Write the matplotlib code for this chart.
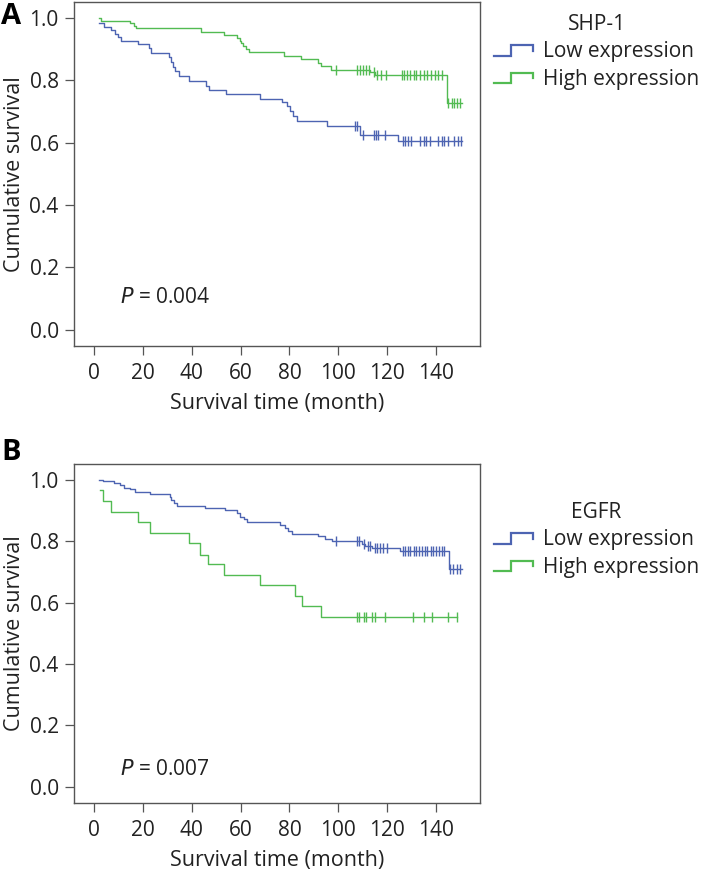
import numpy as np
import matplotlib
matplotlib.use("Agg")
import matplotlib.pyplot as plt
from matplotlib.lines import Line2D
from matplotlib.legend_handler import HandlerBase

plt.rcParams["font.family"] = ["Open Sans", "DejaVu Sans"]

# ---------------- data ----------------
# panel A : SHP-1
shp_low_t = [2.0, 3.8, 6.9, 8.5, 9.6, 11.0, 18.1, 22.6, 23.3, 30.8, 31.5, 32.2,
             33.3, 34.9, 38.7, 45.9, 47.0, 54.1, 68.1, 77.0, 78.8, 80.1, 81.5,
             82.9, 95.2, 108.9, 124.6]
shp_low_s = [0.984, 0.972, 0.962, 0.949, 0.938, 0.927, 0.917, 0.903, 0.888, 0.874,
             0.858, 0.842, 0.829, 0.815, 0.799, 0.783, 0.769, 0.757, 0.742, 0.730,
             0.719, 0.703, 0.687, 0.671, 0.655, 0.625, 0.604]
shp_low_end = 150.7
shp_low_cens = [106.8, 107.8, 110.1, 114.5, 115.5, 116.5, 119.1, 126.5, 127.5,
                128.5, 130.0, 133.5, 135.0, 136.0, 137.5, 141.0, 142.5, 143.5,
                145.0, 147.5, 149.0, 150.5]

shp_high_t = [2.0, 2.8, 14.8, 16.4, 17.1, 43.8, 53.0, 58.6, 59.6, 60.3, 61.0,
              62.0, 63.3, 77.6, 84.9, 91.6, 93.1, 97.2, 113.0, 115.1, 144.5]
shp_high_s = [1.0, 0.990, 0.983, 0.975, 0.967, 0.955, 0.946, 0.937, 0.928, 0.919,
              0.910, 0.900, 0.890, 0.880, 0.868, 0.856, 0.845, 0.835, 0.826, 0.817,
              0.727]
shp_high_end = 150.7
shp_high_cens = [99.0, 107.5, 108.9, 110.1, 111.4, 112.6, 114.5, 116.0, 117.5,
                 119.5, 126.0, 127.0, 128.0, 129.5, 131.0, 132.0, 133.5, 135.0,
                 136.5, 138.0, 139.5, 141.0, 142.5, 145.0, 146.5, 147.5, 148.5,
                 150.0]

# panel B : EGFR
egfr_low_t = [1.8, 3.4, 7.9, 10.7, 12.0, 14.8, 16.8, 23.0, 30.9, 31.4, 32.5, 33.9,
              45.5, 53.7, 58.5, 59.8, 61.2, 62.6, 76.2, 78.3, 79.6, 81.0, 91.9,
              94.7, 97.4, 109.7, 111.1, 113.8, 125.4, 145.2]
egfr_low_s = [1.0, 0.995, 0.989, 0.982, 0.975, 0.970, 0.962, 0.954, 0.946, 0.934,
              0.924, 0.916, 0.909, 0.902, 0.891, 0.880, 0.872, 0.864, 0.853, 0.842,
              0.833, 0.825, 0.818, 0.809, 0.801, 0.792, 0.785, 0.778, 0.767, 0.710]
egfr_low_end = 150.7
egfr_low_cens = [99.2, 107.7, 108.5, 110.5, 112.0, 113.0, 115.0, 116.0, 117.0,
                 118.5, 120.0, 126.5, 127.5, 128.5, 129.5, 131.0, 132.0, 133.0,
                 134.5, 135.5, 136.5, 138.0, 139.0, 140.0, 141.5, 142.5, 143.5,
                 146.0, 147.0, 148.5, 150.0]

egfr_high_t = [2.2, 3.4, 6.8, 17.9, 22.7, 38.9, 43.4, 46.8, 53.0, 68.0, 82.1,
               85.1, 93.0]
egfr_high_s = [0.967, 0.932, 0.896, 0.862, 0.827, 0.795, 0.757, 0.725, 0.691,
               0.658, 0.623, 0.588, 0.552]
egfr_high_end = 148.6
egfr_high_cens = [107.5, 108.5, 110.5, 111.3, 114.0, 115.0, 119.3, 130.5, 135.2,
                  138.4, 145.0, 148.6]

groups = ["Low expression", "High expression"]
BLUE = "#4d64b2"
GREEN = "#52bb52"
SPINE = "#555555"
TXT = "#222222"


class StepHandler(HandlerBase):
    """legend key drawn as a little KM step"""
    def create_artists(self, legend, orig_handle, xdescent, ydescent,
                       width, height, fontsize, trans):
        x0, y0 = -xdescent, -ydescent
        xs = [x0, x0 + 0.45 * width, x0 + 0.45 * width, x0 + width, x0 + width]
        ys = [y0 + 0.05 * height, y0 + 0.05 * height, y0 + 0.85 * height,
              y0 + 0.85 * height, y0 + 0.4 * height]
        ln = Line2D(xs, ys, color=orig_handle.get_color(), lw=1.6,
                    solid_joinstyle="miter")
        ln.set_transform(trans)
        return [ln]


def km_curve(ax, t, s, end, cens, color):
    t = np.asarray(t)
    s = np.asarray(s)
    xs = np.append(t, end)
    ys = np.append(s, s[-1])
    line, = ax.step(xs, ys, where="post", color=color, lw=1.0)
    idx = np.searchsorted(t, cens, side="right") - 1
    ax.plot(cens, s[idx], ls="none", marker="|", ms=7, mew=1.0, color=color)
    return line


def style_axes(ax):
    ax.set_xlim(-8.3, 158.1)
    ax.set_ylim(-0.053, 1.052)
    ax.set_xticks(np.arange(0, 141, 20))
    ax.set_yticks(np.arange(0, 1.01, 0.2))
    ax.set_yticklabels([f"{v:.1f}" for v in np.arange(0, 1.01, 0.2)])
    for sp in ax.spines.values():
        sp.set_color(SPINE)
        sp.set_linewidth(1.0)
    ax.tick_params(direction="out", length=6.5, width=0.9, color=SPINE,
                   labelsize=15, pad=4.5, labelcolor=TXT)
    ax.tick_params(axis="x", pad=6)
    ax.set_xlabel("Survival time (month)", fontsize=15.5, color=TXT, labelpad=6)
    ax.set_ylabel("Cumulative survival", fontsize=15.5, color=TXT, labelpad=3)


fig = plt.figure(figsize=(7.06, 8.73), dpi=100)
W, H = 706, 873

axA = fig.add_axes([74 / W, 1 - 346 / H, 406 / W, 344 / H])
axB = fig.add_axes([74 / W, 1 - 803 / H, 406 / W, 339 / H])

panels = [
    (axA, "A", "SHP-1", "0.004", 0.142,
     [(shp_low_t, shp_low_s, shp_low_end, shp_low_cens, BLUE),
      (shp_high_t, shp_high_s, shp_high_end, shp_high_cens, GREEN)],
     (494 / W, 1 - 14 / H), (1 / W, 1 - 17 / H)),
    (axB, "B", "EGFR", "0.007", 0.10,
     [(egfr_low_t, egfr_low_s, egfr_low_end, egfr_low_cens, BLUE),
      (egfr_high_t, egfr_high_s, egfr_high_end, egfr_high_cens, GREEN)],
     (494 / W, 1 - 502 / H), (1 / W, 1 - 452 / H)),
]

for ax, letter, gene, pval, py, series, leg_xy, let_xy in panels:
    handles = []
    for (t, s, end, cens, col), name in zip(series, groups):
        handles.append(km_curve(ax, t, s, end, cens, col))
    style_axes(ax)
    ax.text(0.113, py, "$P$ = " + pval, transform=ax.transAxes, fontsize=15,
            color=TXT, va="center", ha="left")
    leg = ax.legend(handles, groups, title=gene, loc="upper left",
                    bbox_to_anchor=leg_xy, bbox_transform=fig.transFigure,
                    frameon=False, fontsize=15, title_fontsize=15,
                    handlelength=1.85, handleheight=0.6, handletextpad=0.5,
                    labelspacing=0.3, borderpad=0, borderaxespad=0,
                    handler_map={Line2D: StepHandler()})
    for txt in leg.get_texts():
        txt.set_color(TXT)
    leg.get_title().set_color(TXT)
    fig.text(let_xy[0], let_xy[1], letter, fontsize=21, fontweight="bold",
             va="center", ha="left")

fig.savefig("out.png", dpi=100)
